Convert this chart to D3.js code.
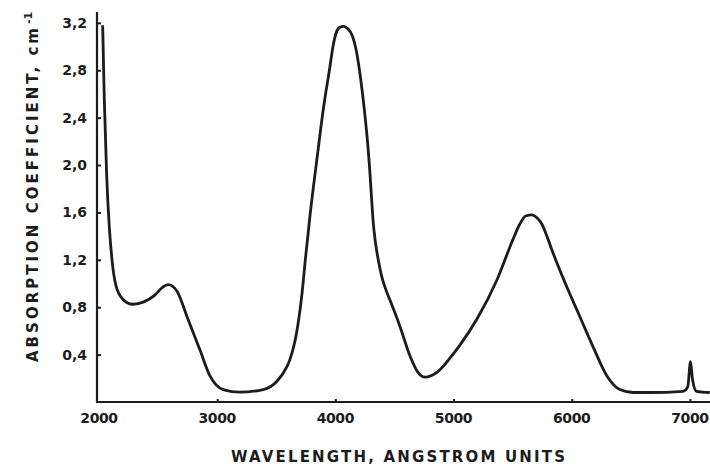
<!DOCTYPE html>
<html>
<head>
<meta charset="utf-8">
<script src="https://cdn.jsdelivr.net/npm/d3@7"></script>
<style>
  body { margin: 0; background: #fff; }
  svg { display: block; }
</style>
</head>
<body>
<div id="chart"></div>
<script>
// wavelength (angstrom) vs absorption coefficient
var wavelength = [2031, 2045, 2065, 2087, 2110, 2144, 2200, 2285, 2380, 2470, 2540, 2585, 2660,
  2745, 2854, 2939, 3050, 3193, 3390, 3506, 3591, 3616, 3673, 3716, 3748, 3785, 3844, 3895,
  3954, 3980, 4005, 4035, 4070, 4105, 4140, 4180, 4215, 4245, 4270, 4290, 4305, 4320, 4340,
  4365, 4392, 4430, 4462, 4546, 4631, 4699, 4758, 4859, 4969, 5054, 5198, 5367, 5502, 5560,
  5610, 5663, 5710, 5748, 5790, 5841, 5959, 6069, 6179, 6298, 6408, 6518, 6662, 6940, 6982,
  7005, 7022, 7056, 7168];
var absorption = [3.18, 2.55, 1.91, 1.48, 1.20, 0.98, 0.87, 0.825, 0.845, 0.90, 0.97, 0.99, 0.935,
  0.72, 0.44, 0.22, 0.105, 0.083, 0.105, 0.175, 0.30, 0.36, 0.59, 0.90, 1.22, 1.57, 2.05, 2.45,
  2.83, 3.00, 3.11, 3.16, 3.17, 3.15, 3.10, 2.95, 2.72, 2.47, 2.22, 1.97, 1.74, 1.52, 1.34,
  1.19, 1.06, 0.94, 0.86, 0.64, 0.39, 0.25, 0.21, 0.25, 0.37, 0.48, 0.70, 1.03, 1.37, 1.50,
  1.57, 1.58, 1.55, 1.50, 1.40, 1.26, 0.97, 0.72, 0.47, 0.22, 0.105, 0.08, 0.08, 0.09, 0.13,
  0.34, 0.19, 0.09, 0.08];

var xTicks = [2000, 3000, 4000, 5000, 6000, 7000];
var yTicks = [0.4, 0.8, 1.2, 1.6, 2.0, 2.4, 2.8, 3.2];

var width = 710, height = 468;
var ink = "#1c1c1c";
var font = "DejaVu Sans, Verdana, sans-serif";

var svg = d3.select("#chart").append("svg")
  .attr("width", width)
  .attr("height", height);

var x = d3.scaleLinear().domain([2000, 7170]).range([99, 710]);
var y = d3.scaleLinear().domain([0, 3.3]).range([402, 11]);

var fmt = function(d) { return d3.format(".1f")(d).replace(".", ","); };

// y axis ticks (inward)
var yAxis = svg.append("g")
  .attr("transform", "translate(" + (x(2000) - 2) + ",0)")
  .call(d3.axisRight(y).tickValues(yTicks).tickSize(4).tickFormat(""));
yAxis.select(".domain").remove();
yAxis.selectAll(".tick line").attr("stroke", ink).attr("stroke-width", 2);

svg.append("g").selectAll("text")
  .data(yTicks)
  .enter()
  .append("text")
  .attr("x", 87)
  .attr("y", d => y(d))
  .attr("dy", "0.36em")
  .attr("text-anchor", "end")
  .attr("font-family", font)
  .attr("font-weight", "bold")
  .attr("font-size", "14px")
  .attr("fill", ink)
  .text(fmt);

// x axis ticks (inward)
var xAxis = svg.append("g")
  .attr("transform", "translate(0," + y(0) + ")")
  .call(d3.axisTop(x).tickValues(xTicks.slice(1)).tickSize(3).tickFormat(""));
xAxis.select(".domain").remove();
xAxis.selectAll(".tick line").attr("stroke", ink).attr("stroke-width", 2);

svg.append("g").selectAll("text")
  .data(xTicks)
  .enter()
  .append("text")
  .attr("x", d => x(d))
  .attr("y", 423)
  .attr("text-anchor", "middle")
  .attr("font-family", font)
  .attr("font-weight", "bold")
  .attr("font-size", "14px")
  .attr("letter-spacing", "-0.4px")
  .attr("fill", ink)
  .text(d => d);

// axis lines
svg.append("line")
  .attr("x1", x(2000) - 2).attr("x2", x(2000) - 2)
  .attr("y1", y(3.3) + 1).attr("y2", y(0) + 1)
  .attr("stroke", ink).attr("stroke-width", 2.2);
svg.append("line")
  .attr("x1", x(2000) - 3).attr("x2", width)
  .attr("y1", y(0)).attr("y2", y(0))
  .attr("stroke", ink).attr("stroke-width", 2.2);

// the curve
var pts = wavelength.map((w, i) => [w, absorption[i]]);
var line = d3.line()
  .x(d => x(d[0]))
  .y(d => y(d[1]))
  .curve(d3.curveMonotoneX);

svg.append("path")
  .datum(pts)
  .attr("d", line)
  .attr("fill", "none")
  .attr("stroke", ink)
  .attr("stroke-width", 2.8)
  .attr("stroke-linejoin", "round");

// axis titles
svg.append("text")
  .attr("x", 231)
  .attr("y", 462)
  .attr("textLength", 334)
  .attr("lengthAdjust", "spacing")
  .attr("font-family", font)
  .attr("font-weight", "bold")
  .attr("font-size", "15px")
  .attr("fill", ink)
  .text("WAVELENGTH, ANGSTROM UNITS");

var ylab = svg.append("text")
  .attr("transform", "translate(38,362) rotate(-90)")
  .attr("font-family", font)
  .attr("font-weight", "bold")
  .attr("font-size", "15px")
  .attr("fill", ink);
ylab.append("tspan")
  .attr("textLength", 334)
  .attr("lengthAdjust", "spacing")
  .text("ABSORPTION COEFFICIENT, cm");
ylab.append("tspan").attr("dx", 1).attr("dy", "-0.55em").attr("font-size", "11px").text("-1");
</script>
</body>
</html>
